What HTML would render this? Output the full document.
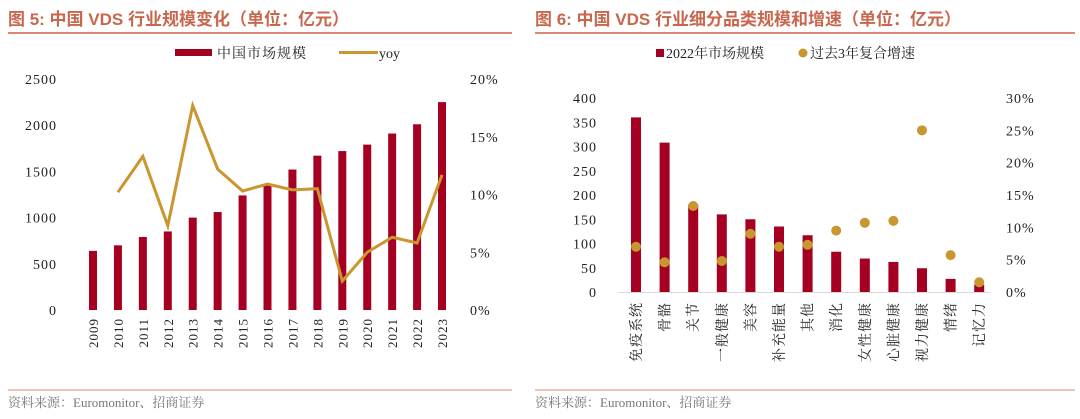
<!DOCTYPE html>
<html><head><meta charset="utf-8">
<style>
body{margin:0;background:#fff;width:1080px;height:414px;overflow:hidden;font-family:"Liberation Serif","Noto Serif CJK SC",serif;}
svg text{font-family:"Liberation Serif","Noto Serif CJK SC",serif;}
svg text.ttl{font-family:"Liberation Sans","Noto Sans CJK SC",sans-serif;}
svg text.tk{letter-spacing:1px;}
</style></head><body>
<svg id="s" width="1080" height="414" xmlns="http://www.w3.org/2000/svg">
<g>
<text class="ttl" x="8" y="25" font-size="17" font-weight="bold" fill="#c8674e">图 5:  中国 VDS 行业规模变化（单位：亿元）</text>
<line x1="8" y1="33" x2="512" y2="33" stroke="#d98a72" stroke-width="2"/>
</g>
<g>
<text class="ttl" x="535" y="25" font-size="17" font-weight="bold" fill="#c8674e">图 6:  中国 VDS 行业细分品类规模和增速（单位：亿元）</text>
<line x1="535" y1="33" x2="1075" y2="33" stroke="#d98a72" stroke-width="2"/>
</g>
<g>
<rect x="175" y="49" width="37" height="7" fill="#a50021"/>
<text x="217" y="58" font-size="14" fill="#222" letter-spacing="1">中国市场规模</text>
<line x1="339" y1="52.5" x2="378" y2="52.5" stroke="#c9962f" stroke-width="3"/>
<text x="379" y="58" font-size="14" fill="#222">yoy</text>
</g>
<g>
<rect x="656" y="49" width="8" height="8" fill="#a50021"/>
<text x="666" y="58" font-size="14" fill="#222">2022年市场规模</text>
<circle cx="803" cy="53" r="4.5" fill="#c9962f"/>
<text x="810" y="58" font-size="14" fill="#222">过去3年复合增速</text>
</g>
<g>
<line x1="8" y1="390" x2="512" y2="390" stroke="#d98a72" stroke-width="1"/>
<text x="8" y="407" font-size="13" fill="#777">资料来源：Euromonitor、招商证券</text>
</g>
<g>
<line x1="535" y1="390" x2="1075" y2="390" stroke="#d98a72" stroke-width="1"/>
<text x="535" y="407" font-size="13" fill="#777">资料来源：Euromonitor、招商证券</text>
</g>
<g id="left"></g>
<g id="right"></g>
</svg>
<script>
const years=["2009","2010","2011","2012","2013","2014","2015","2016","2017","2018","2019","2020","2021","2022","2023"];
const marketSize=[640,700,790,850,1000,1060,1240,1350,1520,1670,1720,1790,1910,2010,2250];
const yoy=[null,10.2,13.3,7.3,17.7,12.2,10.3,10.9,10.4,10.5,2.5,5.0,6.3,5.8,11.7];
const leftTicks=[0,500,1000,1500,2000,2500];
const leftPctTicks=[0,5,10,15,20];
const categories=["免疫系统","骨骼","关节","一般健康","美容","补充能量","其他","消化","女性健康","心脏健康","视力健康","情绪","记忆力"];
const size2022=[360,308,180,160,150,135,117,83,69,62,49,27,15];
const cagr3y=[7.0,4.6,13.3,4.8,9.0,7.0,7.3,9.5,10.7,11.0,25.0,5.7,1.5];
const rightTicks=[0,50,100,150,200,250,300,350,400];
const rightPctTicks=[0,5,10,15,20,25,30];
const NS="http://www.w3.org/2000/svg";
function mk(p,t,a){const e=document.createElementNS(NS,t);for(const k in a)e.setAttribute(k,a[k]);p.appendChild(e);return e;}
const L=document.getElementById('left');
const ly=v=>310-v*(231/2500), lp=v=>310-v*(231/20), lx=i=>93+i*24.93;
leftTicks.forEach(t=>{const e=mk(L,'text',{x:57,y:ly(t)+5,'font-size':14,'text-anchor':'end',fill:'#222',class:'tk'});e.textContent=t;

});
leftPctTicks.forEach(t=>{const e=mk(L,'text',{x:470,y:lp(t)+5,'font-size':14,fill:'#222',class:'tk'});e.textContent=t+'%';

});
marketSize.forEach((v,i)=>{const r=mk(L,'rect',{x:lx(i)-4,y:ly(v),width:8,height:310-ly(v),fill:'#a50021'});

});
let pts=[];yoy.forEach((v,i)=>{if(v!==null)pts.push(lx(i)+','+lp(v));});
const pl=mk(L,'polyline',{points:pts.join(' '),fill:'none',stroke:'#c9962f','stroke-width':3});


years.forEach((y,i)=>{const e=mk(L,'text',{x:0,y:0,'font-size':13,'text-anchor':'end',fill:'#222',class:'tk',transform:`translate(${lx(i)+5},318) rotate(-90)`});e.textContent=y;

});
const R=document.getElementById('right');
const ry=v=>292-v*(194/400), rp=v=>292-v*(194/30), rx=i=>636+i*28.6;
mk(R,'line',{x1:618,y1:292.5,x2:990,y2:292.5,stroke:'#d9d9d9'});
rightTicks.forEach(t=>{const e=mk(R,'text',{x:597,y:ry(t)+5,'font-size':14,'text-anchor':'end',fill:'#222',class:'tk'});e.textContent=t;

});
rightPctTicks.forEach(t=>{const e=mk(R,'text',{x:1006,y:rp(t)+5,'font-size':14,fill:'#222',class:'tk'});e.textContent=t+'%';

});
size2022.forEach((v,i)=>{const r=mk(R,'rect',{x:rx(i)-5,y:ry(v),width:10,height:292-ry(v),fill:'#a50021'});

});
cagr3y.forEach((v,i)=>{const c=mk(R,'circle',{cx:rx(i),cy:rp(v),r:5,fill:'#c9962f'});

});
categories.forEach((c,i)=>{const e=mk(R,'text',{x:0,y:0,'font-size':14,'text-anchor':'end',fill:'#222','letter-spacing':'1',transform:`translate(${rx(i)+5},302) rotate(-90)`});e.textContent=c;

});
</script>
</body></html>
